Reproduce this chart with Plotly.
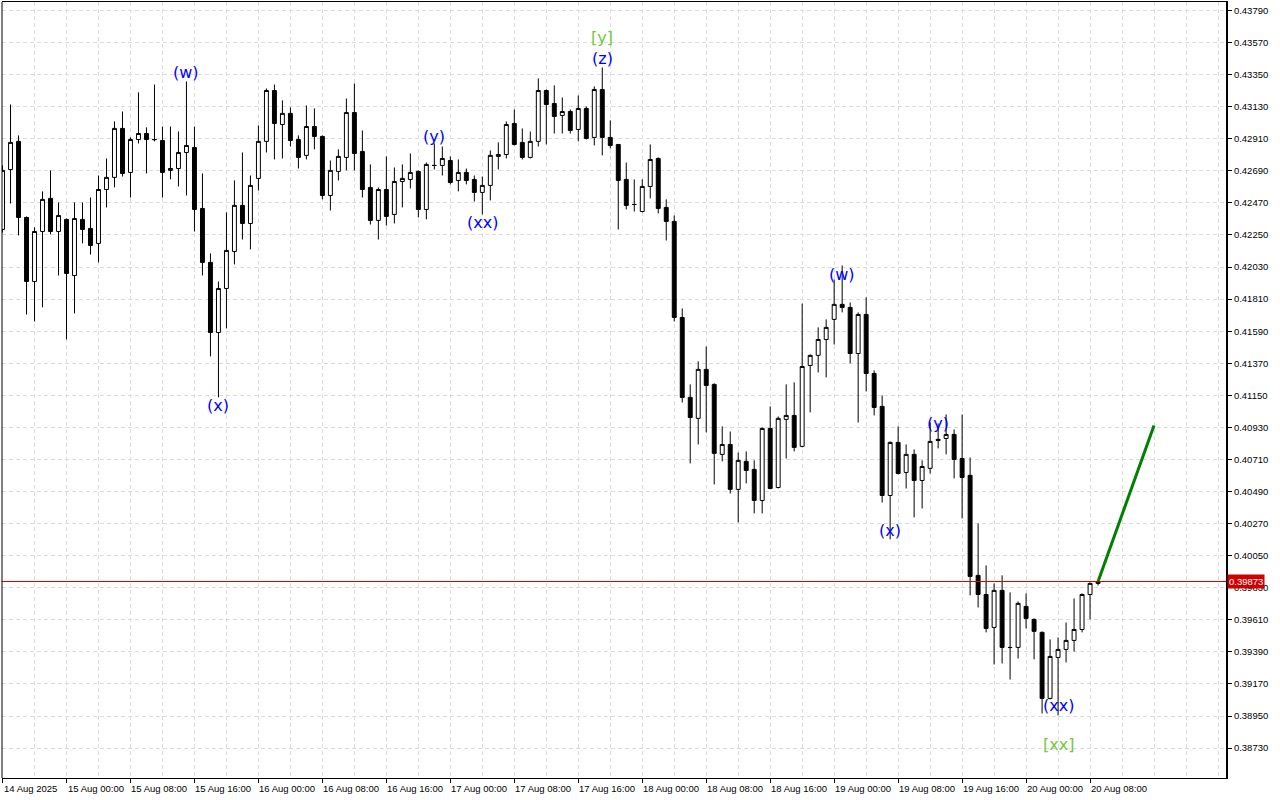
import plotly.graph_objects as go
import pandas as pd

# ---------------- data ----------------
start_time = "2025-08-14 16:00"

open_ = [0.42288, 0.42699, 0.42892, 0.42370, 0.41931, 0.42274, 0.42501, 0.42274, 0.42357, 0.41972,
         0.42357, 0.42295, 0.42192, 0.42562, 0.42645, 0.42981, 0.42679, 0.42905, 0.42946, 0.42905,
         0.42898, 0.42693, 0.42706, 0.42816, 0.42850, 0.42432, 0.42062, 0.41581, 0.41883, 0.42137,
         0.42453, 0.42329, 0.42638, 0.42892, 0.43241, 0.43008, 0.43084, 0.42905, 0.42796, 0.42994,
         0.42926, 0.42521, 0.42686, 0.42782, 0.43090, 0.42823, 0.42576, 0.42350, 0.42562, 0.42391,
         0.42617, 0.42631, 0.42686, 0.42425, 0.42727, 0.42727, 0.42761, 0.42624, 0.42679, 0.42631,
         0.42542, 0.42590, 0.42789, 0.42802, 0.43015, 0.42885, 0.42782, 0.42892, 0.43241, 0.43152,
         0.43070, 0.43097, 0.42974, 0.43118, 0.42919, 0.43248, 0.42919, 0.42871, 0.42631, 0.42459,
         0.42411, 0.42583, 0.42775, 0.42439, 0.42343, 0.41684, 0.41136, 0.40992, 0.41328, 0.41225,
         0.40745, 0.40813, 0.40505, 0.40697, 0.40642, 0.40429, 0.40923, 0.40518, 0.40985, 0.41012,
         0.40800, 0.41355, 0.41424, 0.41533, 0.41671, 0.41774, 0.41753, 0.41437, 0.41705, 0.41300,
         0.41074, 0.40463, 0.40827, 0.40621, 0.40745, 0.40566, 0.40649, 0.40848, 0.40854, 0.40882,
         0.40717, 0.40601, 0.39915, 0.39784, 0.39558, 0.39812, 0.39421, 0.39421, 0.39702, 0.39613,
         0.39524, 0.39071, 0.39352, 0.39407, 0.39469, 0.39544, 0.39784, 0.39860]

high = [0.42727, 0.43145, 0.42933, 0.42377, 0.42302, 0.42549, 0.42693, 0.42473, 0.42363, 0.42473,
        0.42473, 0.42507, 0.42658, 0.42775, 0.43029, 0.43097, 0.42919, 0.43228, 0.42988, 0.43282,
        0.42994, 0.42994, 0.42960, 0.43303, 0.42994, 0.42672, 0.42123, 0.41931, 0.42405, 0.42624,
        0.42816, 0.42658, 0.43001, 0.43255, 0.43282, 0.43173, 0.43125, 0.42933, 0.43138, 0.43118,
        0.42933, 0.42761, 0.42837, 0.43186, 0.43289, 0.42967, 0.42734, 0.42576, 0.42789, 0.42713,
        0.42734, 0.42809, 0.42693, 0.42747, 0.42878, 0.42857, 0.42789, 0.42768, 0.42706, 0.42658,
        0.42651, 0.42830, 0.42885, 0.43029, 0.43111, 0.42981, 0.42960, 0.43324, 0.43248, 0.43276,
        0.43193, 0.43111, 0.43207, 0.43132, 0.43269, 0.43399, 0.43036, 0.42871, 0.42747, 0.42631,
        0.42631, 0.42871, 0.42782, 0.42494, 0.42384, 0.41746, 0.41225, 0.41383, 0.41485, 0.41232,
        0.40937, 0.40902, 0.40758, 0.40765, 0.40704, 0.40930, 0.41074, 0.41005, 0.41225, 0.41239,
        0.41780, 0.41431, 0.41616, 0.41671, 0.41945, 0.42041, 0.41787, 0.41719, 0.41822, 0.41321,
        0.41149, 0.40834, 0.40937, 0.40813, 0.40779, 0.40704, 0.40964, 0.40957, 0.41019, 0.40916,
        0.41019, 0.40724, 0.40271, 0.39983, 0.39860, 0.39915, 0.39798, 0.39736, 0.39791, 0.39620,
        0.39531, 0.39476, 0.39489, 0.39592, 0.39757, 0.39791, 0.39867, 0.39880]

low = [0.42267, 0.42466, 0.42247, 0.41705, 0.41657, 0.41753, 0.42254, 0.41972, 0.41533, 0.41712,
       0.42192, 0.42116, 0.42062, 0.42439, 0.42576, 0.42651, 0.42507, 0.42878, 0.42672, 0.42892,
       0.42507, 0.42631, 0.42583, 0.42521, 0.42274, 0.41972, 0.41417, 0.41136, 0.41609, 0.42048,
       0.42219, 0.42151, 0.42555, 0.42816, 0.42768, 0.42775, 0.42857, 0.42706, 0.42768, 0.42837,
       0.42494, 0.42418, 0.42624, 0.42693, 0.42693, 0.42507, 0.42322, 0.42219, 0.42315, 0.42329,
       0.42439, 0.42569, 0.42370, 0.42357, 0.42699, 0.42658, 0.42597, 0.42549, 0.42597, 0.42480,
       0.42391, 0.42487, 0.42699, 0.42775, 0.42864, 0.42768, 0.42775, 0.42857, 0.42871, 0.42946,
       0.42946, 0.42946, 0.42892, 0.42905, 0.42864, 0.42796, 0.42844, 0.42288, 0.42425, 0.42411,
       0.42405, 0.42501, 0.42398, 0.42212, 0.41657, 0.41101, 0.40683, 0.40813, 0.40896, 0.40539,
       0.40697, 0.40477, 0.40278, 0.40546, 0.40340, 0.40340, 0.40505, 0.40511, 0.40717, 0.40765,
       0.40793, 0.41033, 0.41307, 0.41273, 0.41499, 0.41719, 0.41369, 0.40964, 0.41177, 0.41012,
       0.40415, 0.40162, 0.40607, 0.40511, 0.40313, 0.40374, 0.40614, 0.40786, 0.40745, 0.40580,
       0.40306, 0.39778, 0.39695, 0.39524, 0.39304, 0.39311, 0.39201, 0.39345, 0.39551, 0.39339,
       0.38968, 0.39064, 0.38954, 0.39318, 0.39393, 0.39524, 0.39613, 0.39846]

close = [0.42693, 0.42885, 0.42370, 0.41931, 0.42274, 0.42494, 0.42274, 0.42384, 0.41986, 0.42363,
         0.42288, 0.42178, 0.42562, 0.42645, 0.42981, 0.42672, 0.42905, 0.42946, 0.42905, 0.42904,
         0.42679, 0.42706, 0.42816, 0.42864, 0.42425, 0.42062, 0.41581, 0.41883, 0.42144, 0.42453,
         0.42329, 0.42590, 0.42892, 0.43241, 0.43015, 0.43084, 0.42898, 0.42782, 0.42994, 0.42926,
         0.42521, 0.42693, 0.42789, 0.43090, 0.42809, 0.42562, 0.42350, 0.42562, 0.42377, 0.42617,
         0.42638, 0.42679, 0.42425, 0.42734, 0.42727, 0.42775, 0.42610, 0.42679, 0.42624, 0.42542,
         0.42590, 0.42796, 0.42802, 0.43008, 0.42871, 0.42782, 0.42892, 0.43241, 0.43145, 0.43063,
         0.43097, 0.42967, 0.43118, 0.42912, 0.43248, 0.42919, 0.42864, 0.42624, 0.42453, 0.42459,
         0.42583, 0.42768, 0.42432, 0.42343, 0.41684, 0.41136, 0.40998, 0.41328, 0.41218, 0.40752,
         0.40813, 0.40505, 0.40704, 0.40635, 0.40429, 0.40923, 0.40511, 0.40992, 0.41012, 0.40793,
         0.41348, 0.41424, 0.41533, 0.41616, 0.41774, 0.41753, 0.41437, 0.41705, 0.41300, 0.41067,
         0.40463, 0.40827, 0.40614, 0.40745, 0.40566, 0.40662, 0.40834, 0.40841, 0.40882, 0.40710,
         0.40587, 0.39908, 0.39784, 0.39551, 0.39812, 0.39421, 0.39420, 0.39723, 0.39620, 0.39531,
         0.39071, 0.39359, 0.39407, 0.39469, 0.39544, 0.39784, 0.39860, 0.39873]

current_price = 0.39873

# projected (green) line
proj_times = ["2025-08-20 09:00", "2025-08-20 16:00"]
proj_prices = [0.39873, 0.40943]

# wave labels: text, time, price, colour group
wave_text = ["(w)", "(x)", "(y)", "(xx)", "[y]", "(z)", "(w)", "(x)", "(y)", "(xx)", "[xx]"]
wave_time = ["2025-08-15 15:00", "2025-08-15 19:00", "2025-08-16 22:00", "2025-08-17 04:00",
             "2025-08-17 19:00", "2025-08-17 19:00", "2025-08-19 01:00", "2025-08-19 07:00",
             "2025-08-19 13:00", "2025-08-20 04:00", "2025-08-20 04:00"]
wave_price = [0.43365, 0.41081, 0.42926, 0.42336, 0.43605, 0.43461, 0.41979, 0.40223,
              0.40957, 0.39023, 0.38756]
wave_major = [False, False, False, False, True, False, False, False, False, False, True]

x_tick_times = ["2025-08-14 16:00", "2025-08-15 00:00", "2025-08-15 08:00", "2025-08-15 16:00",
                "2025-08-16 00:00", "2025-08-16 08:00", "2025-08-16 16:00", "2025-08-17 00:00",
                "2025-08-17 08:00", "2025-08-17 16:00", "2025-08-18 00:00", "2025-08-18 08:00",
                "2025-08-18 16:00", "2025-08-19 00:00", "2025-08-19 08:00", "2025-08-19 16:00",
                "2025-08-20 00:00", "2025-08-20 08:00"]
x_tick_labels = ["14 Aug 2025", "15 Aug 00:00", "15 Aug 08:00", "15 Aug 16:00", "16 Aug 00:00",
                 "16 Aug 08:00", "16 Aug 16:00", "17 Aug 00:00", "17 Aug 08:00", "17 Aug 16:00",
                 "18 Aug 00:00", "18 Aug 08:00", "18 Aug 16:00", "19 Aug 00:00", "19 Aug 08:00",
                 "19 Aug 16:00", "20 Aug 00:00", "20 Aug 08:00"]

y_tick_values = [0.38730, 0.38950, 0.39170, 0.39390, 0.39610, 0.39830, 0.40050, 0.40270,
                 0.40490, 0.40710, 0.40930, 0.41150, 0.41370, 0.41590, 0.41810, 0.42030,
                 0.42250, 0.42470, 0.42690, 0.42910, 0.43130, 0.43350, 0.43570, 0.43790]
y_tick_labels = ["%.5f" % v for v in y_tick_values]

# ---------------- figure ----------------
times = pd.date_range(start_time, periods=len(open_), freq="h")

AXIS_FONT = dict(family="Liberation Sans, Arial, sans-serif", size=9.5, color="black")
GRID = "#dcdcdc"

fig = go.Figure()

fig.add_trace(go.Candlestick(
    x=times, open=open_, high=high, low=low, close=close,
    increasing=dict(line=dict(color="black", width=1), fillcolor="white"),
    decreasing=dict(line=dict(color="black", width=1), fillcolor="black"),
    whiskerwidth=0, showlegend=False, hoverinfo="skip",
))

fig.add_trace(go.Scatter(
    x=proj_times, y=proj_prices, mode="lines",
    line=dict(color="#008000", width=3), showlegend=False, hoverinfo="skip",
))

# current price line
fig.add_shape(type="line", xref="paper", x0=0, x1=1, yref="y",
              y0=current_price, y1=current_price, line=dict(color="#e00000", width=1))
# left frame edge
fig.add_shape(type="line", xref="paper", x0=0, x1=0, yref="paper", y0=0, y1=1,
              line=dict(color="black", width=1))

annotations = []
for t, lab in zip(x_tick_times, x_tick_labels):
    annotations.append(dict(x=t, y=0, xref="x", yref="paper", text=lab, showarrow=False,
                            xanchor="left", yanchor="top", xshift=-1, yshift=-3,
                            font=AXIS_FONT))

for txt, t, p, major in zip(wave_text, wave_time, wave_price, wave_major):
    annotations.append(dict(x=t, y=p, xref="x", yref="y", text=txt, showarrow=False,
                            xanchor="center", yanchor="middle",
                            font=dict(family="DejaVu Sans", size=16,
                                      color="#72c83c" if major else "#0000ff")))

annotations.append(dict(x=1, y=current_price, xref="paper", yref="y", text="0.39873",
                        showarrow=False, xanchor="left", yanchor="middle", xshift=1,
                        bgcolor="#d00000", borderpad=1,
                        font=dict(family="Liberation Sans, Arial, sans-serif", size=9.5,
                                  color="white")))

fig.update_layout(
    width=1280, height=800,
    margin=dict(l=2, r=54, t=2, b=22),
    paper_bgcolor="white", plot_bgcolor="white",
    showlegend=False,
    annotations=annotations,
    xaxis=dict(
        type="date",
        range=["2025-08-14 15:56", "2025-08-21 01:00"],
        rangeslider=dict(visible=False),
        tickmode="array", tickvals=x_tick_times, showticklabels=False,
        ticks="outside", ticklen=4, tickcolor="black", tickwidth=1,
        showgrid=True, gridcolor=GRID, griddash="4px,3px", gridwidth=1,
        minor=dict(dtick=4 * 3600 * 1000, tick0="2025-08-14 16:00", showgrid=True,
                   gridcolor=GRID, griddash="4px,3px", ticks=""),
        showline=True, linecolor="black", linewidth=1, mirror=True,
        zeroline=False, fixedrange=True,
    ),
    yaxis=dict(
        side="right",
        range=[0.385251, 0.438481],
        tickmode="array", tickvals=y_tick_values, ticktext=y_tick_labels,
        ticks="outside", ticklen=4, tickcolor="black", tickwidth=1,
        tickfont=AXIS_FONT,
        showgrid=True, gridcolor=GRID, griddash="4px,3px", gridwidth=1,
        showline=True, linecolor="black", linewidth=2,
        zeroline=False, fixedrange=True,
    ),
)

fig.write_html("out.html", config={"displayModeBar": False},
               post_script="document.body.style.margin='0px';")
